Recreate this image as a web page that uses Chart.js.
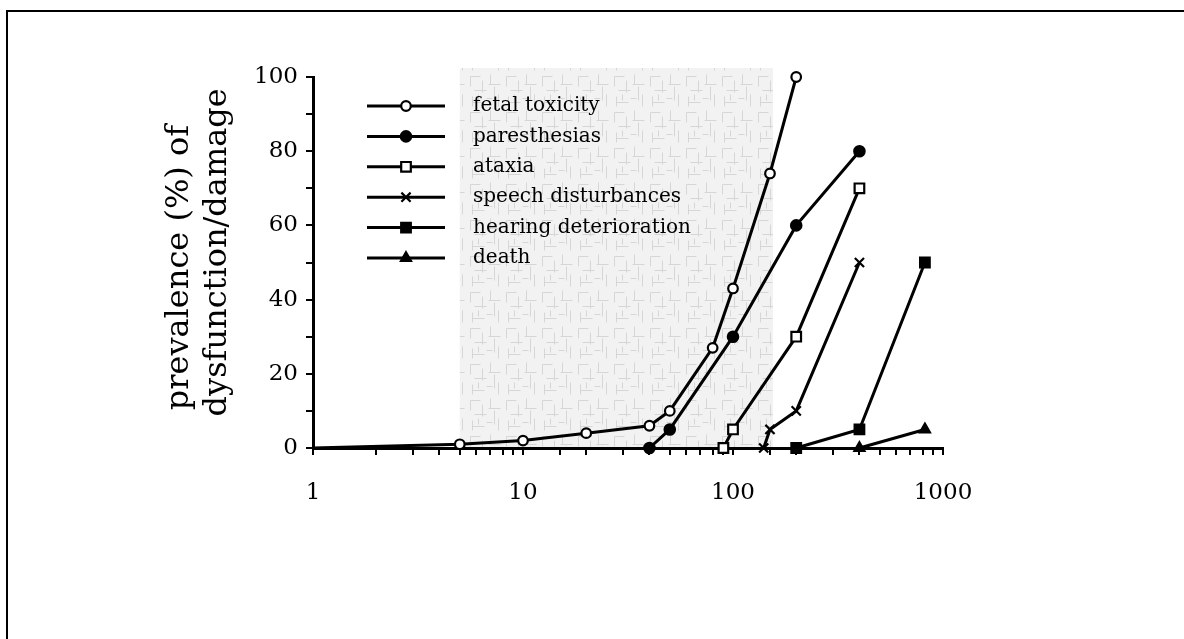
<!DOCTYPE html>
<html><head><meta charset="utf-8">
<script src="https://cdn.jsdelivr.net/npm/chart.js@4.4.1/dist/chart.umd.min.js"></script>
<style>
html,body{margin:0;padding:0;background:#fff;overflow:hidden}
#wrap{position:relative;width:1184px;height:639px;overflow:hidden}
#frame{position:absolute;left:6px;top:10px;width:1300px;height:700px;border-left:2px solid #000;border-top:2px solid #000}
canvas{position:absolute;left:0;top:0}
</style></head><body>
<div id="wrap"><div id="frame"></div><canvas id="c" width="1184" height="639"></canvas></div>
<script>
// ---- data ----
const seriesNames = ['fetal toxicity','paresthesias','ataxia','speech disturbances','hearing deterioration','death'];
const fetalX = [1, 5, 10, 20, 40, 50, 80, 100, 150, 200];
const fetalY = [0, 1, 2, 4, 6, 10, 27, 43, 74, 100];
const paresX = [40, 50, 100, 200, 400];
const paresY = [0, 5, 30, 60, 80];
const ataxX = [90, 100, 200, 400];
const ataxY = [0, 5, 30, 70];
const speechX = [140, 150, 200, 400];
const speechY = [0, 5, 10, 50];
const hearX = [200, 400, 820];
const hearY = [0, 5, 50];
const deathX = [400, 820];
const deathY = [0, 5];
const xTickLabels = [1, 10, 100, 1000];
const yTickLabels = [0, 20, 40, 60, 80, 100];
const shadedRange = [5, 155];

const pts = (xs, ys) => xs.map((x, i) => ({x, y: ys[i]}));

const styles = [
  {pointStyle:'circle', bg:'#fff', r:4.8},
  {pointStyle:'circle', bg:'#000', r:5.2},
  {pointStyle:'rect', bg:'#fff', r:6.8},
  {pointStyle:'crossRot', bg:'#000', r:6.5},
  {pointStyle:'rect', bg:'#000', r:6.8},
  {pointStyle:'triangle', bg:'#000', r:5.8}
];
const xsArr = [fetalX, paresX, ataxX, speechX, hearX, deathX];
const ysArr = [fetalY, paresY, ataxY, speechY, hearY, deathY];

const datasets = seriesNames.map((name, i) => ({
  label: name,
  data: pts(xsArr[i], ysArr[i]),
  borderColor: '#000',
  borderWidth: 3,
  pointStyle: styles[i].pointStyle,
  pointBackgroundColor: styles[i].bg,
  pointBorderColor: '#000',
  pointBorderWidth: 2.2,
  pointRadius: (c) => (i === 0 && c.dataIndex === 0) ? 0 : styles[i].r,
  tension: 0,
  fill: false,
  clip: false
}));

// texture pattern for shaded region
function makePattern(ctx){
  const p = document.createElement('canvas');
  p.width = 36; p.height = 36;
  const g = p.getContext('2d');
  g.fillStyle = '#f2f2f2'; g.fillRect(0,0,36,36);
  g.strokeStyle = '#d6d6d6'; g.lineWidth = 1;
  const segs = [[2,4,2,14],[2,4,12,4],[14,8,14,20],[6,18,18,18],[22,2,22,12],[20,12,32,12],[26,14,26,28],[4,24,4,34],[4,30,16,30],[30,22,30,34],[10,22,10,28],[18,26,24,26]];
  g.beginPath();
  segs.forEach(s => { g.moveTo(s[0]+0.5, s[1]+0.5); g.lineTo(s[2]+0.5, s[3]+0.5); });
  g.stroke();
  return ctx.createPattern(p, 'repeat');
}

const shadePlugin = {
  id: 'shade',
  beforeDraw(chart){
    const {ctx, chartArea, scales} = chart;
    const x0 = scales.x.getPixelForValue(shadedRange[0]);
    const x1 = scales.x.getPixelForValue(shadedRange[1]);
    ctx.save();
    ctx.fillStyle = makePattern(ctx);
    ctx.fillRect(x0, chartArea.top - 9, x1 - x0, chartArea.bottom - chartArea.top + 9);
    ctx.restore();
  }
};

function drawMarker(ctx, st, x, y){
  ctx.save();
  ctx.fillStyle = st.bg; ctx.strokeStyle = '#000'; ctx.lineWidth = 2.2;
  const r = st.r;
  ctx.beginPath();
  if (st.pointStyle === 'circle') {
    ctx.arc(x, y, r, 0, Math.PI*2); ctx.fill(); ctx.stroke();
  } else if (st.pointStyle === 'rect') {
    const s = Math.SQRT1_2 * r;
    ctx.rect(x - s, y - s, 2*s, 2*s); ctx.fill(); ctx.stroke();
  } else if (st.pointStyle === 'crossRot') {
    const s = Math.SQRT1_2 * r;
    ctx.moveTo(x-s,y-s); ctx.lineTo(x+s,y+s); ctx.moveTo(x-s,y+s); ctx.lineTo(x+s,y-s); ctx.stroke();
  } else if (st.pointStyle === 'triangle') {
    for (let k=0;k<3;k++){
      const a = k*2*Math.PI/3;
      const px = x + Math.sin(a)*r, py = y - Math.cos(a)*r;
      if (k===0) ctx.moveTo(px,py); else ctx.lineTo(px,py);
    }
    ctx.closePath(); ctx.fill(); ctx.stroke();
  }
  ctx.restore();
}

const legendPlugin = {
  id: 'insideLegend',
  afterDatasetsDraw(chart){
    const {ctx, chartArea} = chart;
    const lx0 = chartArea.left + 54, lx1 = chartArea.left + 132, tx = chartArea.left + 160;
    chart.data.datasets.forEach((ds, i) => {
      const y = chartArea.top + 29 + i*30.4;
      ctx.save();
      ctx.strokeStyle = '#000'; ctx.lineWidth = 3;
      ctx.beginPath(); ctx.moveTo(lx0, y); ctx.lineTo(lx1, y); ctx.stroke();
      drawMarker(ctx, styles[i], (lx0+lx1)/2, y);
      ctx.fillStyle = '#000';
      ctx.font = '20px "DejaVu Serif"';
      ctx.textBaseline = 'middle';
      ctx.fillText(ds.label, tx, y);
      ctx.restore();
    });
  }
};

const isPow10 = v => { const l = Math.log10(v); return Math.abs(l - Math.round(l)) < 1e-9; };

new Chart(document.getElementById('c'), {
  type: 'line',
  data: { datasets },
  options: {
    responsive: false,
    animation: false,
    devicePixelRatio: 1,
    layout: { padding: { left: 0, top: 77, right: 241, bottom: 0 } },
    plugins: { legend: { display: false }, tooltip: { enabled: false } },
    scales: {
      x: {
        type: 'logarithmic',
        min: 1, max: 1000,
        afterFit(s){ s.height = 191; },
        border: { color: '#000', width: 3 },
        grid: { drawOnChartArea: false, color: '#000', tickLength: 7, lineWidth: 2 },
        ticks: {
          autoSkip: false, maxRotation: 0, padding: 24,
          color: '#000', font: { family: '"DejaVu Serif"', size: 23 },
          callback: (v) => (isPow10(v) && xTickLabels.includes(Math.round(v))) ? String(Math.round(v)) : ''
        }
      },
      y: {
        min: 0, max: 100,
        afterFit(s){ s.width = 313; },
        border: { color: '#000', width: 3 },
        grid: { drawOnChartArea: false, color: '#000', tickLength: 7, lineWidth: 2 },
        ticks: {
          stepSize: 10, autoSkip: false, padding: 8,
          color: '#000', font: { family: '"DejaVu Serif"', size: 23 },
          callback: (v) => yTickLabels.includes(v) ? String(v) : ''
        },
        title: {
          display: true,
          text: ['prevalence (%) of ', '  dysfunction/damage'],
          color: '#000',
          font: { family: '"DejaVu Serif"', size: 32, lineHeight: 1.19 },
          padding: { top: 161, bottom: 0 }
        }
      }
    }
  },
  plugins: [shadePlugin, legendPlugin]
});
</script>
</body></html>
